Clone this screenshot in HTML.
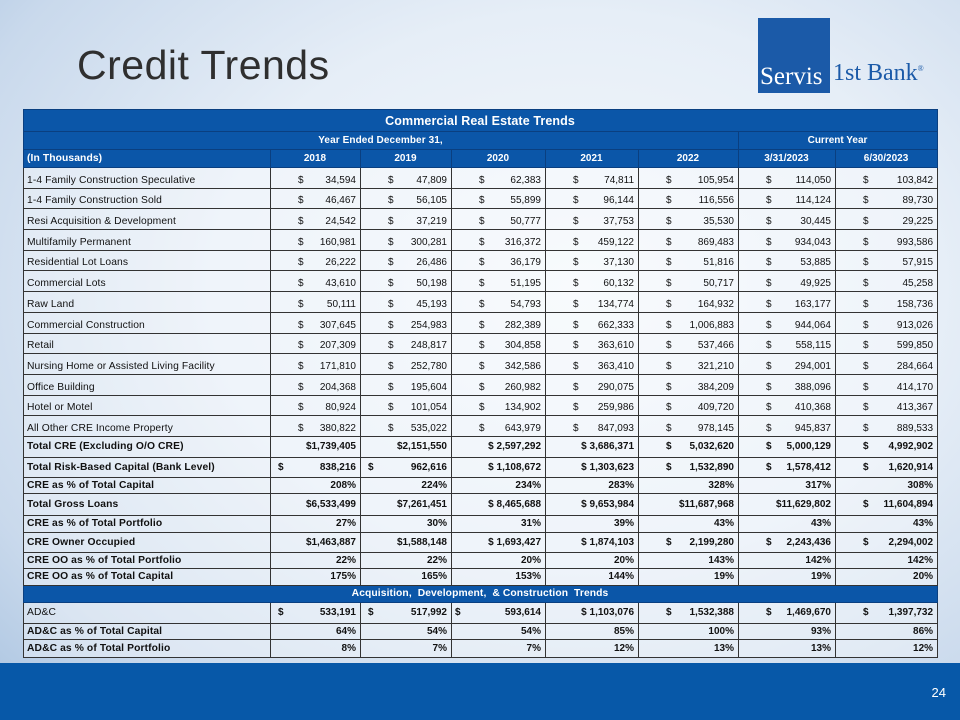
<!DOCTYPE html>
<html><head><meta charset="utf-8"><style>
*{margin:0;padding:0;box-sizing:border-box}
body{width:960px;height:720px;overflow:hidden;position:relative;font-family:"Liberation Sans",sans-serif;
background:radial-gradient(ellipse at 60% 40%,#f4f8fc 0%,#e6eef7 45%,#c9d9ec 80%,#a9c3e0 100%);}
.title{position:absolute;left:77px;top:42px;font-size:41px;color:#2f2f2f;letter-spacing:0.5px}
.logo{position:absolute;left:758px;top:18px;width:72px;height:75px;background:#1b5aa8}
.logo span{position:absolute;left:2px;bottom:2px;color:#fff;font-family:"Liberation Serif",serif;font-size:25px}
.bank{position:absolute;left:833px;top:60px;font-family:"Liberation Serif",serif;font-size:24px;color:#1b5aa8}
.bank sup{font-size:8px}
.foot{position:absolute;left:0;top:663px;width:960px;height:57px;background:#0758a8}
.foot span{position:absolute;right:14px;top:22px;color:#fff;font-size:13px}
table{position:absolute;left:23px;top:109px;width:914px;border-collapse:collapse;table-layout:fixed;font-size:10px;color:#111}
td{border:1px solid #333;padding:0 4px 0 3px;white-space:nowrap;text-align:right;background:rgba(255,255,255,0.35);overflow:hidden}
tr.d td{vertical-align:bottom;padding-bottom:2px}
td:first-child{text-align:left;font-size:10.3px;letter-spacing:0.1px}
tr.h td{background:#0b56a8;color:#fff;font-weight:bold;text-align:center;border-color:#0a3f80}
tr.b td{font-weight:bold}
td s{text-decoration:none;float:left;margin-left:24px}
tr.d{height:20.7px}
</style></head><body>
<div class="title">Credit Trends</div>
<div class="logo"><span>Servis</span></div>
<div class="bank">1st Bank<sup>®</sup></div>
<table>
<colgroup><col style="width:247px"><col style="width:90px"><col style="width:91px"><col style="width:94px"><col style="width:93px"><col style="width:100px"><col style="width:97px"><col style="width:102px"></colgroup>
<tr class="h" style="height:22px"><td colspan="8" style="font-size:12.5px;text-align:center">Commercial Real Estate Trends</td></tr>
<tr class="h" style="height:18px"><td colspan="6" style="font-size:10px;text-align:center">Year Ended December 31,</td><td colspan="2">Current Year</td></tr>
<tr class="h" style="height:18px"><td style="text-align:left">(In Thousands)</td><td>2018</td><td>2019</td><td>2020</td><td>2021</td><td>2022</td><td>3/31/2023</td><td>6/30/2023</td></tr>
<tr class="d"><td>1-4 Family Construction Speculative</td><td><s>$</s>34,594</td><td><s>$</s>47,809</td><td><s>$</s>62,383</td><td><s>$</s>74,811</td><td><s>$</s>105,954</td><td><s>$</s>114,050</td><td><s>$</s>103,842</td></tr>
<tr class="d"><td>1-4 Family Construction Sold</td><td><s>$</s>46,467</td><td><s>$</s>56,105</td><td><s>$</s>55,899</td><td><s>$</s>96,144</td><td><s>$</s>116,556</td><td><s>$</s>114,124</td><td><s>$</s>89,730</td></tr>
<tr class="d"><td>Resi Acquisition &amp; Development</td><td><s>$</s>24,542</td><td><s>$</s>37,219</td><td><s>$</s>50,777</td><td><s>$</s>37,753</td><td><s>$</s>35,530</td><td><s>$</s>30,445</td><td><s>$</s>29,225</td></tr>
<tr class="d"><td>Multifamily Permanent</td><td><s>$</s>160,981</td><td><s>$</s>300,281</td><td><s>$</s>316,372</td><td><s>$</s>459,122</td><td><s>$</s>869,483</td><td><s>$</s>934,043</td><td><s>$</s>993,586</td></tr>
<tr class="d"><td>Residential Lot Loans</td><td><s>$</s>26,222</td><td><s>$</s>26,486</td><td><s>$</s>36,179</td><td><s>$</s>37,130</td><td><s>$</s>51,816</td><td><s>$</s>53,885</td><td><s>$</s>57,915</td></tr>
<tr class="d"><td>Commercial Lots</td><td><s>$</s>43,610</td><td><s>$</s>50,198</td><td><s>$</s>51,195</td><td><s>$</s>60,132</td><td><s>$</s>50,717</td><td><s>$</s>49,925</td><td><s>$</s>45,258</td></tr>
<tr class="d"><td>Raw Land</td><td><s>$</s>50,111</td><td><s>$</s>45,193</td><td><s>$</s>54,793</td><td><s>$</s>134,774</td><td><s>$</s>164,932</td><td><s>$</s>163,177</td><td><s>$</s>158,736</td></tr>
<tr class="d"><td>Commercial Construction</td><td><s>$</s>307,645</td><td><s>$</s>254,983</td><td><s>$</s>282,389</td><td><s>$</s>662,333</td><td><s>$</s>1,006,883</td><td><s>$</s>944,064</td><td><s>$</s>913,026</td></tr>
<tr class="d"><td>Retail</td><td><s>$</s>207,309</td><td><s>$</s>248,817</td><td><s>$</s>304,858</td><td><s>$</s>363,610</td><td><s>$</s>537,466</td><td><s>$</s>558,115</td><td><s>$</s>599,850</td></tr>
<tr class="d"><td>Nursing Home or Assisted Living Facility</td><td><s>$</s>171,810</td><td><s>$</s>252,780</td><td><s>$</s>342,586</td><td><s>$</s>363,410</td><td><s>$</s>321,210</td><td><s>$</s>294,001</td><td><s>$</s>284,664</td></tr>
<tr class="d"><td>Office Building</td><td><s>$</s>204,368</td><td><s>$</s>195,604</td><td><s>$</s>260,982</td><td><s>$</s>290,075</td><td><s>$</s>384,209</td><td><s>$</s>388,096</td><td><s>$</s>414,170</td></tr>
<tr class="d"><td>Hotel or Motel</td><td><s>$</s>80,924</td><td><s>$</s>101,054</td><td><s>$</s>134,902</td><td><s>$</s>259,986</td><td><s>$</s>409,720</td><td><s>$</s>410,368</td><td><s>$</s>413,367</td></tr>
<tr class="d"><td>All Other CRE Income Property</td><td><s>$</s>380,822</td><td><s>$</s>535,022</td><td><s>$</s>643,979</td><td><s>$</s>847,093</td><td><s>$</s>978,145</td><td><s>$</s>945,837</td><td><s>$</s>889,533</td></tr>
<tr class="b" style="height:21px"><td>Total CRE (Excluding O/O CRE)</td><td>$1,739,405</td><td>$2,151,550</td><td>$ 2,597,292</td><td>$ 3,686,371</td><td><s>$</s>5,032,620</td><td><s>$</s>5,000,129</td><td><s>$</s>4,992,902</td></tr>
<tr class="b" style="height:20px"><td>Total Risk-Based Capital (Bank Level)</td><td><s style="margin-left:4px">$</s>838,216</td><td><s style="margin-left:4px">$</s>962,616</td><td>$ 1,108,672</td><td>$ 1,303,623</td><td><s>$</s>1,532,890</td><td><s>$</s>1,578,412</td><td><s>$</s>1,620,914</td></tr>
<tr class="b" style="height:16px"><td>CRE as % of Total Capital</td><td>208%</td><td>224%</td><td>234%</td><td>283%</td><td>328%</td><td>317%</td><td>308%</td></tr>
<tr class="b" style="height:22px"><td>Total Gross Loans</td><td>$6,533,499</td><td>$7,261,451</td><td>$ 8,465,688</td><td>$ 9,653,984</td><td>$11,687,968</td><td>$11,629,802</td><td><s>$</s>11,604,894</td></tr>
<tr class="b" style="height:17px"><td>CRE as % of Total Portfolio</td><td>27%</td><td>30%</td><td>31%</td><td>39%</td><td>43%</td><td>43%</td><td>43%</td></tr>
<tr class="b" style="height:20px"><td>CRE Owner Occupied</td><td>$1,463,887</td><td>$1,588,148</td><td>$ 1,693,427</td><td>$ 1,874,103</td><td><s>$</s>2,199,280</td><td><s>$</s>2,243,436</td><td><s>$</s>2,294,002</td></tr>
<tr class="b" style="height:16px"><td>CRE OO as % of Total Portfolio</td><td>22%</td><td>22%</td><td>20%</td><td>20%</td><td>143%</td><td>142%</td><td>142%</td></tr>
<tr class="b" style="height:17px"><td>CRE OO as % of Total Capital</td><td>175%</td><td>165%</td><td>153%</td><td>144%</td><td>19%</td><td>19%</td><td>20%</td></tr>
<tr class="h" style="height:17px"><td colspan="8" style="text-align:center">Acquisition, &nbsp;Development, &nbsp;&amp; Construction &nbsp;Trends</td></tr>
<tr style="height:21px"><td>AD&amp;C</td><td style="font-weight:bold"><s style="margin-left:4px">$</s>533,191</td><td style="font-weight:bold"><s style="margin-left:4px">$</s>517,992</td><td style="font-weight:bold"><s style="margin-left:0">$</s>593,614</td><td style="font-weight:bold">$ 1,103,076</td><td style="font-weight:bold"><s>$</s>1,532,388</td><td style="font-weight:bold"><s>$</s>1,469,670</td><td style="font-weight:bold"><s>$</s>1,397,732</td></tr>
<tr class="b" style="height:16px"><td>AD&amp;C as % of Total Capital</td><td>64%</td><td>54%</td><td>54%</td><td>85%</td><td>100%</td><td>93%</td><td>86%</td></tr>
<tr class="b" style="height:18px"><td>AD&amp;C as % of Total Portfolio</td><td>8%</td><td>7%</td><td>7%</td><td>12%</td><td>13%</td><td>13%</td><td>12%</td></tr>
</table>
<div class="foot"><span>24</span></div>
</body></html>
